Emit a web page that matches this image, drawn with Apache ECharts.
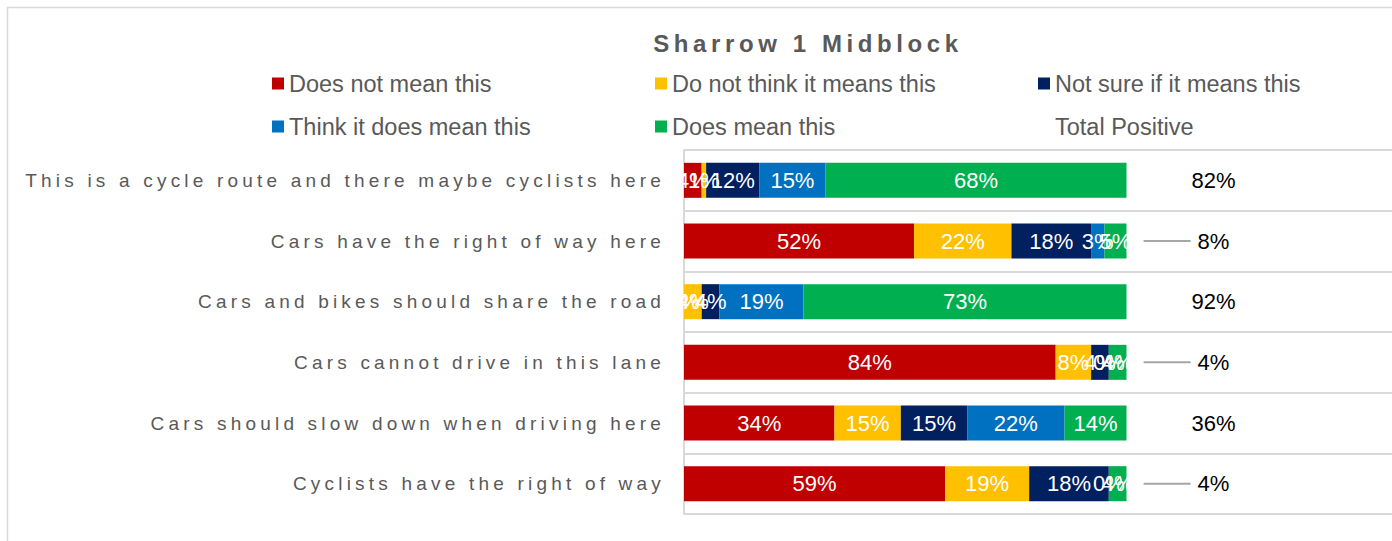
<!DOCTYPE html>
<html>
<head>
<meta charset="utf-8">
<script src="https://cdn.jsdelivr.net/npm/echarts@6/dist/echarts.min.js"></script>
<style>
  html, body { margin: 0; padding: 0; background: #fff; overflow: hidden; }
</style>
</head>
<body>
<div id="chart" style="width:1392px;height:541px;"></div>
<script>
const titleText = 'Sharrow 1 Midblock';
const categories = [
  'This is a cycle route and there maybe cyclists here',
  'Cars have the right of way here',
  'Cars and bikes should share the road',
  'Cars cannot drive in this lane',
  'Cars should slow down when driving here',
  'Cyclists have the right of way'
];
const seriesNames = ['Does not mean this', 'Do not think it means this', 'Not sure if it means this',
  'Think it does mean this', 'Does mean this', 'Total Positive'];
const doesNotMean = [4, 52, 0, 84, 34, 59];
const doNotThink = [1, 22, 4, 8, 15, 19];
const notSure = [12, 18, 4, 4, 15, 18];
const thinkDoes = [15, 3, 19, 0, 22, 0];
const doesMean = [68, 5, 73, 4, 14, 4];
const totalPositive = [82, 8, 92, 4, 36, 4];

const colors = ['#C00000', '#FFC000', '#002060', '#0070C0', '#00B050'];
const FONT = 'Arial, "Liberation Sans", sans-serif';

let myChart = echarts.init(document.getElementById('chart'), null, { renderer: 'svg' });

function stackBar(name, data, color) {
  return {
    name: name,
    type: 'bar',
    stack: 'all',
    barWidth: 35,
    data: data,
    itemStyle: { color: color },
    label: {
      show: true,
      position: 'inside',
      color: '#fff',
      fontFamily: FONT,
      fontSize: 22,
      formatter: '{c}%'
    }
  };
}

const option = {
  animation: false,
  graphic: [{
    type: 'rect',
    shape: { x: 7.5, y: 7.5, width: 1400, height: 600 },
    style: { fill: 'none', stroke: '#d9d9d9', lineWidth: 1.5 },
    silent: true
  }],
  title: {
    text: titleText,
    left: 803,
    top: 26,
    textAlign: 'center',
    textStyle: { color: '#595959', fontFamily: FONT, fontSize: 24, fontWeight: 'bold' }
  },
  legend: {
    left: 272,
    top: 70,
    padding: 0,
    width: 1200,
    itemWidth: 12,
    itemHeight: 12,
    itemGap: 16,
    icon: 'rect',
    data: seriesNames,
    textStyle: { color: '#595959', fontFamily: FONT, fontSize: 23.5, lineHeight: 27, width: 350 }
  },
  grid: { left: 684, right: 0, top: 150, bottom: 27, containLabel: false },
  xAxis: {
    type: 'value',
    min: 0,
    max: 160,
    show: false
  },
  yAxis: {
    type: 'category',
    inverse: true,
    data: categories,
    axisLine: { show: true, lineStyle: { color: '#d9d9d9', width: 2 } },
    axisTick: { show: false },
    splitLine: { show: true, lineStyle: { color: '#d9d9d9', width: 2 } },
    axisLabel: { color: '#595959', fontFamily: FONT, fontSize: 19, margin: 19 }
  },
  series: [
    stackBar(seriesNames[0], doesNotMean, colors[0]),
    stackBar(seriesNames[1], doNotThink, colors[1]),
    stackBar(seriesNames[2], notSure, colors[2]),
    stackBar(seriesNames[3], thinkDoes, colors[3]),
    stackBar(seriesNames[4], doesMean, colors[4]),
    {
      name: seriesNames[5],
      type: 'bar',
      stack: 'all',
      barWidth: 35,
      clip: false,
      data: totalPositive,
      itemStyle: { color: 'rgba(0,0,0,0)' },
      label: {
        show: true,
        position: [87, '50%'],
        align: 'center',
        verticalAlign: 'middle',
        color: '#000',
        fontFamily: FONT,
        fontSize: 22,
        formatter: function (p) {
          // small totals get a leader line like the original labels
          if (p.value < 10) return '{line| }{sp| }{val|' + p.value + '%}{pad| }';
          return '{val|' + p.value + '%}';
        },
        rich: {
          line: { width: 47, height: 2, backgroundColor: '#a6a6a6', fontSize: 2 },
          sp: { width: 7 },
          pad: { width: 54 },
          val: { color: '#000', fontFamily: FONT, fontSize: 22 }
        }
      }
    }
  ]
};
myChart.setOption(option);

// letter spacing on the category labels and title, like the original
function spaceOut() {
  const wide = new Set(categories.concat([titleText]));
  document.querySelectorAll('#chart text').forEach(function (t) {
    if (wide.has(t.textContent)) {
      t.setAttribute('letter-spacing', t.textContent === titleText ? '4.6px' : '4.2px');
    }
  });
}
myChart.on('finished', spaceOut);
setTimeout(spaceOut, 50);
</script>
</body>
</html>
